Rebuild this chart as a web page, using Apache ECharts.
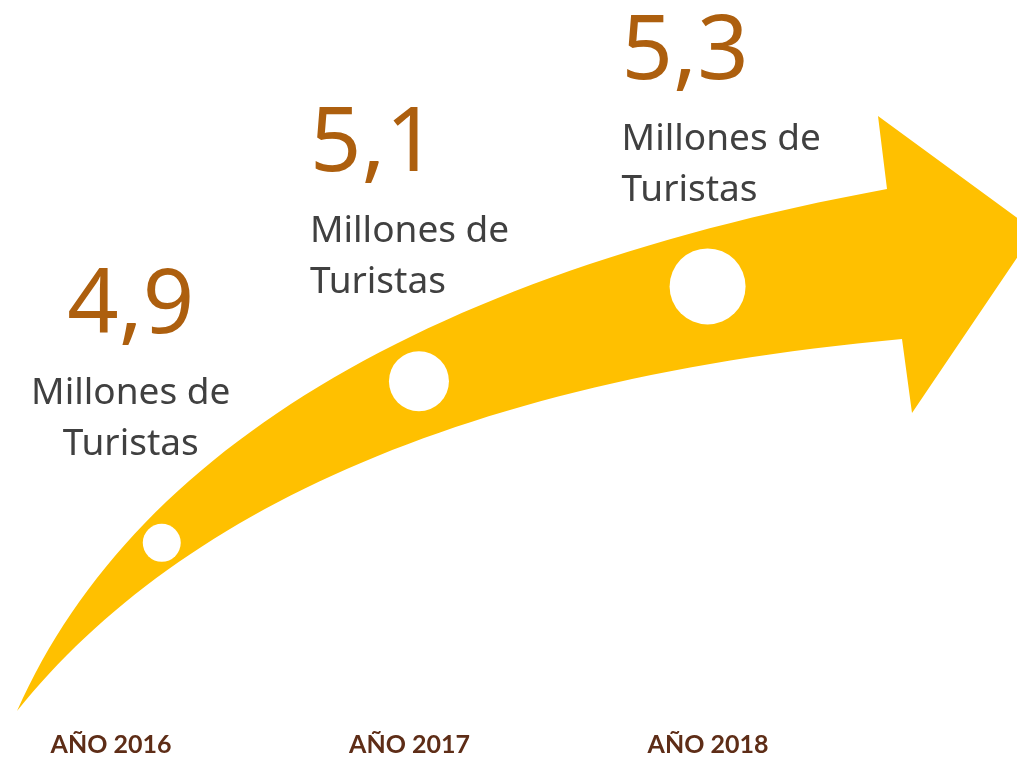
<!DOCTYPE html>
<html lang="es">
<head>
    <meta charset="UTF-8">
    <title>Turistas por año</title>
    <script src="https://cdn.jsdelivr.net/npm/echarts@6/dist/echarts.min.js"></script>
    <style>
        html, body { margin: 0; padding: 0; background: #fff; }
        #main { width: 1017px; height: 757px; }
    </style>
</head>
<body>
<div id="main"></div>
<script>
    // datos
    var years = ['2016', '2017', '2018'];
    var turistas = [4.9, 5.1, 5.3]; // millones
    var unidad = ['Millones de', 'Turistas'];

    // estilo de cada punto (no son datos)
    var dotSize = [38, 60, 76];
    var labelLayout = [
        {align: 'center', offset: [-31, -296]},
        {align: 'left', offset: [-109, -296]},
        {align: 'left', offset: [-86, -294]}
    ];

    // contorno de la flecha (decoración): dos curvas bezier + punta
    function bezier(p0, p1, p2, p3, n) {
        var pts = [];
        for (var k = 0; k <= n; k++) {
            var t = k / n, u = 1 - t;
            pts.push([
                u * u * u * p0[0] + 3 * u * u * t * p1[0] + 3 * u * t * t * p2[0] + t * t * t * p3[0],
                u * u * u * p0[1] + 3 * u * u * t * p1[1] + 3 * u * t * t * p2[1] + t * t * t * p3[1]
            ]);
        }
        return pts;
    }
    var arrowPts = bezier([17, 711], [130, 455], [420, 275], [887, 189], 60)
        .concat([[878, 116], [1035, 231], [912, 413]])
        .concat(bezier([902, 339], [450, 380], [170, 520], [17, 711], 60));

    var myChart = echarts.init(document.getElementById('main'));

    var option = {
        animation: false,
        backgroundColor: '#fff',
        graphic: [{
            type: 'polygon',
            z: 0,
            silent: true,
            shape: {points: arrowPts},
            style: {fill: '#FFC000'}
        }],
        // el arco de la flecha como sistema polar
        polar: {
            center: [949.5, 1510.8],
            radius: [1198, 1298]
        },
        angleAxis: {
            type: 'value',
            min: 4.5,
            max: 9.65,
            startAngle: 157.1,
            clockwise: true,
            show: false
        },
        radiusAxis: {
            type: 'category',
            data: ['Turistas'],
            show: false
        },
        // eje de años abajo
        grid: {
            left: 111,
            right: 309,
            top: 700,
            bottom: 32
        },
        xAxis: {
            type: 'category',
            data: years,
            boundaryGap: false,
            axisLine: {show: false},
            axisTick: {show: false},
            splitLine: {show: false},
            axisLabel: {
                margin: 9,
                color: '#5E2D17',
                fontFamily: 'Lato',
                fontWeight: 'bold',
                fontSize: 25,
                formatter: function (v) {
                    return 'AÑO ' + v;
                }
            }
        },
        yAxis: {
            type: 'value',
            show: false
        },
        series: [{
            type: 'scatter',
            coordinateSystem: 'polar',
            z: 5,
            silent: true,
            symbol: 'circle',
            itemStyle: {color: '#fff', opacity: 1},
            data: turistas.map(function (v, i) {
                return {
                    value: ['Turistas', v],
                    symbolSize: dotSize[i],
                    label: {
                        show: true,
                        position: 'inside',
                        align: labelLayout[i].align,
                        verticalAlign: 'top',
                        offset: labelLayout[i].offset,
                        formatter: '{n|' + String(v).replace('.', ',') + '}\n{t|' + unidad[0] + '}\n{t|' + unidad[1] + '}',
                        rich: {
                            n: {
                                fontFamily: 'Noto Sans',
                                fontSize: 90,
                                lineHeight: 121,
                                color: '#AD5F0E',
                                align: labelLayout[i].align
                            },
                            t: {
                                fontFamily: 'Noto Sans',
                                fontSize: 37,
                                lineHeight: 51,
                                color: '#404040',
                                align: labelLayout[i].align
                            }
                        }
                    }
                };
            })
        }]
    };

    myChart.setOption(option);
    window.addEventListener('resize', function () {
        myChart.resize();
    });
</script>
</body>
</html>
